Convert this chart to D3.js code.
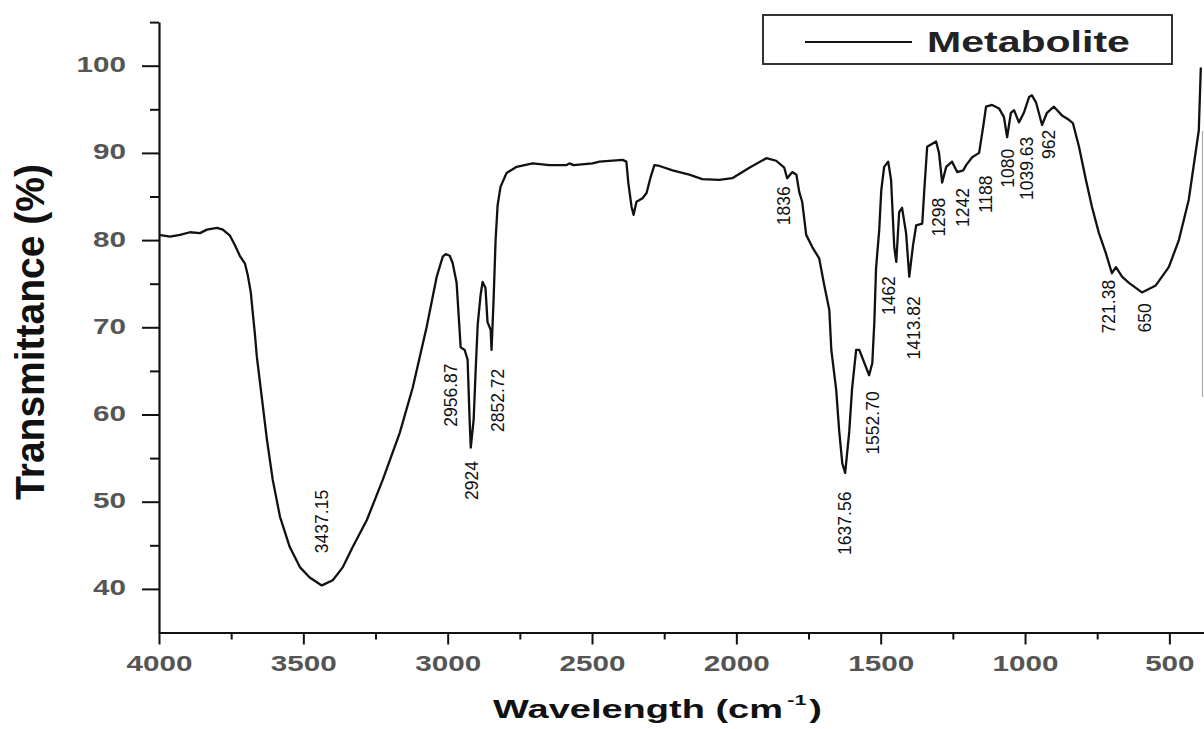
<!DOCTYPE html>
<html>
<head>
<meta charset="utf-8">
<script src="https://cdn.jsdelivr.net/npm/d3@7"></script>
<style>
  html, body { margin: 0; padding: 0; background: #fff; }
  svg { display: block; }
  text { font-family: "Liberation Sans", Arial, sans-serif; }
</style>
</head>
<body>
<svg id="chart" width="1204" height="729"></svg>
<script>
// ---------------- data ----------------
const wavenumber = [
  4000, 3962, 3927, 3893, 3858, 3834, 3799, 3779, 3754, 3737, 3720, 3702, 3692, 3682, 3675, 3668, 3661,
  3644, 3626, 3606, 3581, 3547, 3512, 3478, 3436, 3398, 3363, 3329, 3280, 3225, 3166, 3121, 3073, 3038,
  3017, 3007, 2993, 2983, 2969, 2962, 2955, 2941, 2931, 2924, 2920, 2910, 2903, 2896, 2886, 2879, 2869,
  2862, 2851, 2848, 2841, 2834, 2827, 2817, 2796, 2761, 2706, 2647, 2588, 2578, 2564, 2498, 2474, 2394,
  2381, 2374, 2363, 2356, 2346, 2325, 2311, 2298, 2284, 2266, 2221, 2163, 2118, 2059, 2014, 1955, 1896,
  1862, 1834, 1824, 1806, 1792, 1782, 1772, 1758, 1737, 1713, 1696, 1678, 1671, 1654, 1644, 1633, 1623,
  1609, 1599, 1585, 1574, 1561, 1540, 1529, 1522, 1516, 1505, 1498, 1488, 1474, 1464, 1453, 1446, 1436,
  1426, 1412, 1401, 1388, 1377, 1356, 1349, 1339, 1308, 1298, 1287, 1273, 1253, 1235, 1214, 1204, 1183,
  1159, 1152, 1145, 1135, 1114, 1090, 1073, 1062, 1049, 1038, 1021, 1004, 986, 976, 962, 941, 924, 900,
  872, 848, 834, 813, 789, 768, 744, 720, 699, 685, 664, 640, 595, 547, 502, 467, 433, 408, 398, 391
];
const transmittance = [
  80.6, 80.4, 80.6, 80.9, 80.8, 81.2, 81.4, 81.2, 80.5, 79.4, 78.2, 77.3, 75.9, 74.0, 71.6, 69.3, 66.6,
  62.0, 57.1, 52.5, 48.3, 44.8, 42.5, 41.3, 40.4, 41.0, 42.5, 44.8, 47.9, 52.5, 57.9, 63.1, 70.0, 75.8,
  78.1, 78.4, 78.2, 77.4, 75.1, 71.4, 67.7, 67.4, 66.3, 59.4, 56.2, 59.4, 65.1, 70.3, 73.7, 75.2, 74.5,
  70.6, 69.7, 67.4, 73.1, 80.0, 84.0, 86.1, 87.7, 88.4, 88.8, 88.6, 88.6, 88.8, 88.6, 88.8, 89.0, 89.2,
  89.0, 86.5, 83.8, 82.9, 84.4, 84.8, 85.4, 87.1, 88.6, 88.5, 88.0, 87.5, 87.0, 86.9, 87.1, 88.3, 89.4,
  89.1, 88.3, 87.1, 87.8, 87.5, 85.5, 84.4, 80.6, 79.2, 77.9, 74.9, 72.0, 67.4, 62.8, 58.2, 54.4, 53.3,
  58.0, 63.0, 67.4, 67.4, 66.3, 64.5, 65.9, 70.6, 76.8, 81.2, 85.7, 88.4, 89.0, 86.9, 79.2, 77.5, 83.2,
  83.7, 80.8, 75.8, 79.4, 81.7, 81.9, 85.7, 90.7, 91.3, 90.0, 86.6, 88.4, 89.0, 87.8, 88.0, 88.6, 89.5,
  90.0, 91.5, 93.0, 95.3, 95.5, 95.1, 94.1, 91.8, 94.6, 94.9, 93.5, 94.6, 96.4, 96.6, 95.8, 93.2, 94.6, 95.3,
  94.3, 93.8, 93.4, 90.7, 86.9, 83.8, 80.8, 78.5, 76.2, 76.9, 75.8, 75.1, 74.0, 74.8, 76.9, 80.0, 84.6, 90.3, 92.6, 99.8
];

const xTickValues = [4000, 3500, 3000, 2500, 2000, 1500, 1000, 500];
const xMinorValues = [3750, 3250, 2750, 2250, 1750, 1250, 750];
const yTickValues = [40, 50, 60, 70, 80, 90, 100];
const yMinorValues = [45, 55, 65, 75, 85, 95, 105];

// peak annotations: label text and where the label starts (wavenumber, %T)
const peakLabels = ["3437.15", "2956.87", "2924", "2852.72", "1836", "1637.56", "1552.70", "1462",
                    "1413.82", "1298", "1242", "1188", "1080", "1039.63", "962", "721.38", "650"];
const peakLabelWave = [3436, 2988, 2917, 2827, 1837, 1626, 1526, 1471, 1384, 1298, 1215, 1135, 1059, 993, 917, 709, 585];
const peakLabelT = [44.1, 58.6, 50.2, 58.0, 81.7, 43.9, 55.4, 71.4, 66.3, 80.4, 81.5, 83.1, 86.0, 84.6, 89.3, 69.3, 69.4];

const seriesName = "Metabolite";
const xTitle = "Wavelength (cm";
const xTitleSup = "-1";
const yTitle = "Transmittance (%)";

// ---------------- drawing ----------------
const svg = d3.select("#chart");
const x = d3.scaleLinear().domain([4000, 380]).range([159, 1204]);
const y = d3.scaleLinear().domain([35, 105]).range([632.5, 22.1]);

const TICK_SX = 1.38;
function stretchTicks(g) {
  g.selectAll(".tick text").each(function () {
    const t = d3.select(this);
    const tx = +t.attr("x") || 0;
    const ty = +t.attr("y") || 0;
    t.attr("x", 0).attr("y", 0)
     .attr("transform", `translate(${tx},${ty}) scale(${TICK_SX},1)`);
  });
}

// X axis: minor ticks
svg.append("g")
  .attr("transform", `translate(0,${y(35)})`)
  .call(d3.axisBottom(x).tickValues(xMinorValues).tickSize(7).tickSizeOuter(0).tickFormat(""))
  .call(g => g.select(".domain").remove())
  .call(g => g.selectAll(".tick line").attr("stroke", "#111").attr("stroke-width", 2));

// X axis: major ticks + labels
const gx = svg.append("g")
  .attr("transform", `translate(0,${y(35)})`)
  .call(d3.axisBottom(x).tickValues(xTickValues).tickSize(12).tickSizeOuter(0).tickPadding(11).tickFormat(d3.format("d")));
gx.select(".domain").attr("stroke", "#111").attr("stroke-width", 2.2);
gx.selectAll(".tick line").attr("stroke", "#111").attr("stroke-width", 2);
gx.selectAll(".tick text").attr("font-size", 21.5).attr("font-weight", "bold").attr("fill", "#555")
  .attr("font-family", "'Liberation Sans', Arial, sans-serif");
stretchTicks(gx);

// Y axis: minor ticks
svg.append("g")
  .attr("transform", `translate(${x(4000)},0)`)
  .call(d3.axisLeft(y).tickValues(yMinorValues).tickSize(9).tickSizeOuter(0).tickFormat(""))
  .call(g => g.select(".domain").remove())
  .call(g => g.selectAll(".tick line").attr("stroke", "#111").attr("stroke-width", 2));

// Y axis: major ticks + labels
const gy = svg.append("g")
  .attr("transform", `translate(${x(4000)},0)`)
  .call(d3.axisLeft(y).tickValues(yTickValues).tickSize(17).tickSizeOuter(0).tickPadding(16).tickFormat(d3.format("d")));
gy.select(".domain").attr("stroke", "#111").attr("stroke-width", 2.2);
gy.selectAll(".tick line").attr("stroke", "#111").attr("stroke-width", 2);
gy.selectAll(".tick text").attr("font-size", 21.5).attr("font-weight", "bold").attr("fill", "#555")
  .attr("dy", "0.28em")
  .attr("font-family", "'Liberation Sans', Arial, sans-serif");
stretchTicks(gy);

// faint frame edge at right
svg.append("line")
  .attr("x1", 1202.5).attr("x2", 1202.5)
  .attr("y1", y(92.5)).attr("y2", y(62))
  .attr("stroke", "#aaa").attr("stroke-width", 1.2);

// spectrum line
const points = wavenumber.map((w, i) => [w, transmittance[i]]);
svg.append("path")
  .datum(points)
  .attr("fill", "none")
  .attr("stroke", "#111")
  .attr("stroke-width", 2.3)
  .attr("stroke-linejoin", "round")
  .attr("d", d3.line().x(d => x(d[0])).y(d => y(d[1])));

// peak labels
peakLabels.forEach((lab, i) => {
  svg.append("text")
    .attr("transform", `translate(${x(peakLabelWave[i])},${y(peakLabelT[i])}) rotate(-90)`)
    .attr("dy", "0.36em")
    .attr("text-anchor", "start")
    .attr("font-size", 17.5)
    .attr("fill", "#111")
    .text(lab);
});

// helper: stretch text horizontally to a given width
function fitWidth(textSel, target) {
  const w = textSel.node().getBBox().width;
  return target / w;
}

// X title
const gxt = svg.append("g").attr("transform", `translate(657.5,718)`);
const gxtInner = gxt.append("g");
const xt = gxtInner.append("text")
  .attr("text-anchor", "middle")
  .attr("font-size", 26.5)
  .attr("font-weight", "bold")
  .attr("fill", "#111");
xt.append("tspan").text(xTitle);
xt.append("tspan").attr("font-size", 15).attr("dy", -13).attr("dx", 3).text(xTitleSup);
xt.append("tspan").attr("dy", 13).attr("dx", 2).text(")");
gxtInner.attr("transform", `scale(${fitWidth(xt, 329)},1)`);

// Y title
const gyt = svg.append("g").attr("transform", `translate(30,332) rotate(-90)`);
const gytInner = gyt.append("g");
const yt = gytInner.append("text")
  .attr("text-anchor", "middle")
  .attr("dy", "0.36em")
  .attr("font-size", 40)
  .attr("font-weight", "bold")
  .attr("fill", "#111")
  .text(yTitle);
gytInner.attr("transform", `scale(${fitWidth(yt, 336)},1)`);

// Legend
const lg = svg.append("g");
lg.append("rect")
  .attr("x", 763).attr("y", 15).attr("width", 409).attr("height", 49)
  .attr("fill", "#fff").attr("stroke", "#333").attr("stroke-width", 2);
lg.append("line")
  .attr("x1", 805).attr("x2", 912).attr("y1", 42).attr("y2", 42)
  .attr("stroke", "#111").attr("stroke-width", 2);
const lgText = lg.append("g").attr("transform", "translate(927,52)");
const lgInner = lgText.append("g");
const lt = lgInner.append("text")
  .attr("font-size", 30).attr("font-weight", "bold").attr("fill", "#222")
  .text(seriesName);
lgInner.attr("transform", `scale(${fitWidth(lt, 203)},1)`);
</script>
</body>
</html>
